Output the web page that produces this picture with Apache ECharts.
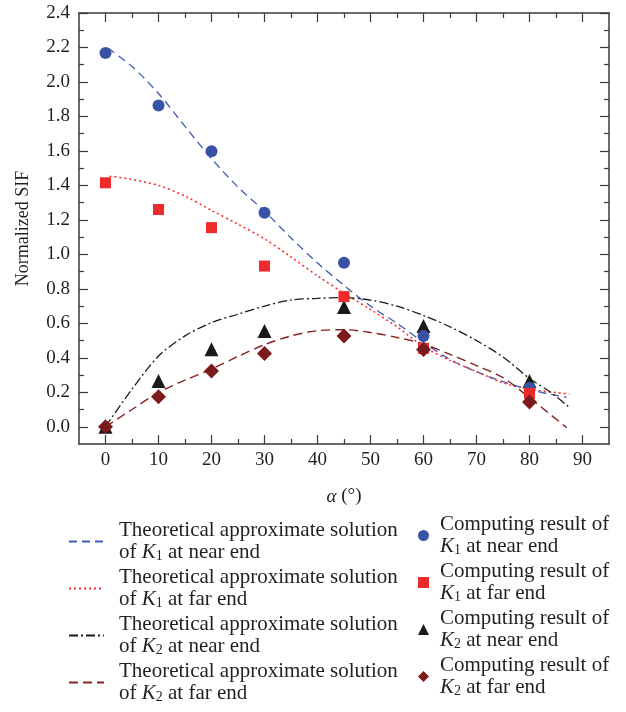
<!DOCTYPE html>
<html><head><meta charset="utf-8">
<script src="https://cdn.jsdelivr.net/npm/echarts@6/dist/echarts.min.js"></script>
<style>html,body{margin:0;padding:0;background:#fff}#c{width:626px;height:712px}</style>
</head><body><div id="c"></div>
<script>
// Computed results (markers)
const alphaPts = [0, 10, 20, 30, 45, 60, 80];
const k1NearPts = [2.168, 1.863, 1.598, 1.241, 0.952, 0.527, 0.225];
const k1FarPts = [1.415, 1.26, 1.155, 0.932, 0.755, 0.455, 0.193];
const k2NearPts = [0, 0.266, 0.45, 0.556, 0.695, 0.585, 0.266];
const k2FarPts = [0, 0.174, 0.324, 0.425, 0.527, 0.448, 0.143];

// Theoretical approximate solutions (curves)
const k1NearThA = [0.5, 5, 10, 15, 20, 25, 30, 35, 40, 45, 50, 55, 60, 65, 70, 75, 80, 87];
const k1NearThV = [2.195, 2.09, 1.933, 1.742, 1.555, 1.39, 1.25, 1.095, 0.95, 0.82, 0.70, 0.60, 0.49, 0.39, 0.32, 0.262, 0.215, 0.17];
const k1FarThA = [0.75, 4, 10, 15, 20, 25, 30, 35, 40, 45, 50, 55, 60, 65, 70, 75, 80, 87.5];
const k1FarThV = [1.453, 1.44, 1.40, 1.338, 1.255, 1.175, 1.09, 0.985, 0.875, 0.775, 0.68, 0.58, 0.465, 0.385, 0.32, 0.255, 0.218, 0.19];
const k2NearThA = [0, 5, 10, 15, 20, 25, 30, 35, 40, 45, 50, 55, 60, 65, 70, 75, 80, 84, 87.5];
const k2NearThV = [0, 0.218, 0.41, 0.527, 0.604, 0.653, 0.70, 0.735, 0.745, 0.749, 0.735, 0.70, 0.645, 0.58, 0.50, 0.405, 0.28, 0.2, 0.112];
const k2FarThA = [0, 5, 10, 15, 20, 25, 30, 35, 40, 45, 50, 55, 60, 65, 70, 75, 80, 87];
const k2FarThV = [0, 0.10, 0.199, 0.27, 0.335, 0.408, 0.476, 0.527, 0.557, 0.563, 0.547, 0.518, 0.48, 0.42, 0.355, 0.285, 0.168, -0.005];

// Tick values
const xMajor = [0, 10, 20, 30, 40, 50, 60, 70, 80, 90];
const xMinor = [5, 15, 25, 35, 45, 55, 65, 75, 85];
const yMajor = [0.0, 0.2, 0.4, 0.6, 0.8, 1.0, 1.2, 1.4, 1.6, 1.8, 2.0, 2.2, 2.4];
const yMinor = [0.1, 0.3, 0.5, 0.7, 0.9, 1.1, 1.3, 1.5, 1.7, 1.9, 2.1, 2.3];

const lineNames = ['thK1near', 'thK1far', 'thK2near', 'thK2far'];
const dotNames = ['cK1near', 'cK1far', 'cK2near', 'cK2far'];
const legendText = {
  thK1near: '{t|Theoretical approximate solution}\n{t|of }{k|K}{s|1}{t| at near end}',
  thK1far: '{t|Theoretical approximate solution}\n{t|of }{k|K}{s|1}{t| at far end}',
  thK2near: '{t|Theoretical approximate solution}\n{t|of }{k|K}{s|2}{t| at near end}',
  thK2far: '{t|Theoretical approximate solution}\n{t|of }{k|K}{s|2}{t| at far end}',
  cK1near: '{t|Computing result of}\n{k|K}{s|1}{t| at near end}',
  cK1far: '{t|Computing result of}\n{k|K}{s|1}{t| at far end}',
  cK2near: '{t|Computing result of}\n{k|K}{s|2}{t| at near end}',
  cK2far: '{t|Computing result of}\n{k|K}{s|2}{t| at far end}'
};

const FONT = '"Liberation Serif", "Times New Roman", serif';
const TXT = '#231f20';
const AX = '#3a3a3a';

function zip(a, b) { return a.map((v, i) => [v, b[i]]); }

function xAxisDef(pos, vals, len, labels, line) {
  return {
    type: 'value', position: pos, min: -5, max: 95, gridIndex: 0,
    axisLine: { show: line, onZero: false, lineStyle: { color: AX, width: 1.5 } },
    axisTick: { show: true, inside: true, length: len, customValues: vals, lineStyle: { color: AX, width: 1.2 } },
    axisLabel: { show: labels, customValues: vals, margin: 7, fontFamily: FONT, fontSize: 19, color: TXT },
    splitLine: { show: false }
  };
}
function yAxisDef(pos, vals, len, labels, line) {
  return {
    type: 'value', position: pos, min: -0.1, max: 2.4, gridIndex: 0,
    axisLine: { show: line, onZero: false, lineStyle: { color: AX, width: 1.5 } },
    axisTick: { show: true, inside: true, length: len, customValues: vals, lineStyle: { color: AX, width: 1.2 } },
    axisLabel: { show: labels, customValues: vals, margin: 9, fontFamily: FONT, fontSize: 19, color: TXT,
      formatter: v => v.toFixed(1) },
    splitLine: { show: false }
  };
}

const xAxes = [
  xAxisDef('bottom', xMajor, 9, true, true),
  xAxisDef('bottom', xMinor, 5, false, false),
  xAxisDef('top', xMajor, 9, false, true),
  xAxisDef('top', xMinor, 5, false, false)
];
xAxes[0].name = '{i|α} (°)';
xAxes[0].nameLocation = 'middle';
xAxes[0].nameGap = 43;
xAxes[0].nameTextStyle = { fontFamily: FONT, fontSize: 19, color: TXT,
  rich: { i: { fontFamily: FONT, fontSize: 19, fontStyle: 'italic', color: TXT } } };

const yAxes = [
  yAxisDef('left', yMajor, 9, true, true),
  yAxisDef('left', yMinor, 5, false, false),
  yAxisDef('right', yMajor, 9, false, true),
  yAxisDef('right', yMinor, 5, false, false)
];
yAxes[0].name = 'Normalized SIF';
yAxes[0].nameLocation = 'middle';
yAxes[0].nameGap = 47;
yAxes[0].nameTextStyle = { fontFamily: FONT, fontSize: 18, color: TXT };

const richStyles = {
  t: { fontFamily: FONT, fontSize: 21, lineHeight: 22, color: TXT },
  k: { fontFamily: FONT, fontSize: 21, lineHeight: 22, fontStyle: 'italic', color: TXT },
  s: { fontFamily: FONT, fontSize: 14, lineHeight: 10, verticalAlign: 'bottom', color: TXT }
};

function lineSeries(name, a, v, color, type, width) {
  return { name, type: 'line', data: zip(a, v), smooth: 0.3, symbol: 'none', silent: true,
    xAxisIndex: 0, yAxisIndex: 0,
    lineStyle: { color, type, width }, itemStyle: { color } };
}
function dotSeries(name, vals, symbol, size, color, z) {
  return { name, type: 'scatter', data: zip(alphaPts, vals), symbol, symbolSize: size, z,
    xAxisIndex: 0, yAxisIndex: 0, itemStyle: { color, opacity: 1 } };
}

const option = {
  animation: false,
  backgroundColor: '#fff',
  grid: { left: 79, right: 17, top: 13, bottom: 268, containLabel: false },
  xAxis: xAxes,
  yAxis: yAxes,
  legend: [
    { data: lineNames, orient: 'vertical', left: 68, top: 520, padding: 0, itemWidth: 35, itemHeight: 14, itemGap: 3.5,
      selectedMode: false, formatter: n => legendText[n],
      itemStyle: { opacity: 0 },
      textStyle: { rich: richStyles, padding: [0, 0, 0, 10] } },
    { data: dotNames, orient: 'vertical', left: 418, top: 514, padding: 0, itemWidth: 11, itemHeight: 11, itemGap: 3.5,
      selectedMode: false, formatter: n => legendText[n],
      textStyle: { rich: richStyles, padding: [0, 0, 0, 6] } }
  ],
  series: [
    lineSeries('thK1near', k1NearThA, k1NearThV, '#3d5cb3', [8, 5], 1.3),
    lineSeries('thK1far', k1FarThA, k1FarThV, '#ff2e2e', [2, 3], 1.6),
    lineSeries('thK2near', k2NearThA, k2NearThV, '#1a1a1a', [9, 3, 2, 3], 1.3),
    lineSeries('thK2far', k2FarThA, k2FarThV, '#8a2222', [9, 5], 1.4),
    dotSeries('cK2near', k2NearPts, 'triangle', 14, '#1a1a1a', 3),
    dotSeries('cK1near', k1NearPts, 'circle', 12, '#3853a6', 4),
    dotSeries('cK1far', k1FarPts, 'rect', 11, '#ee2a2a', 5),
    dotSeries('cK2far', k2FarPts, 'diamond', 15, '#7b1c1c', 6)
  ]
};

const chart = echarts.init(document.getElementById('c'), null, { renderer: 'canvas' });
chart.setOption(option);
</script>
</body></html>
